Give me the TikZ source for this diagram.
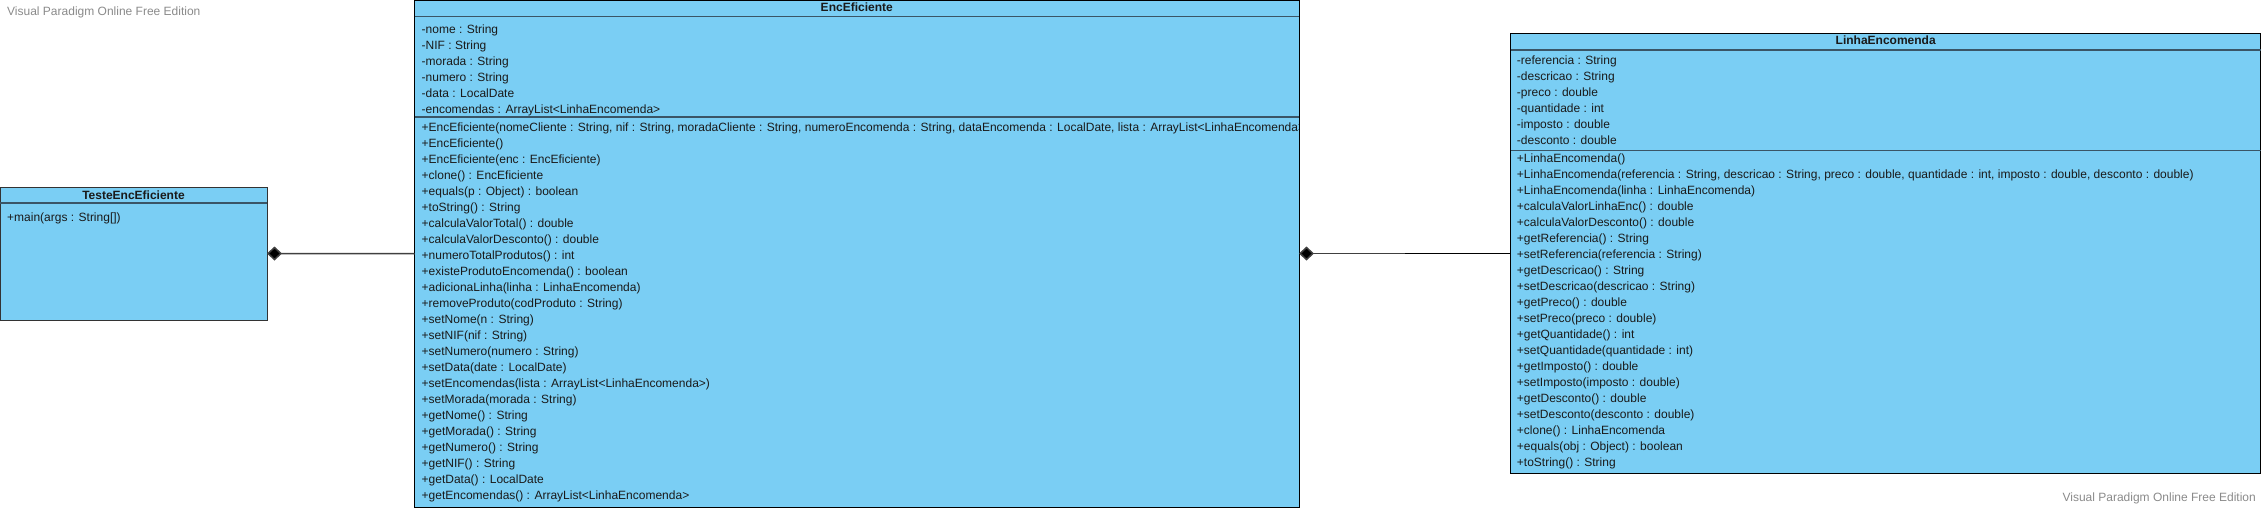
\documentclass[tikz,border=0pt]{standalone}
\usepackage{fontspec}
\setmainfont{Liberation Sans}
\usetikzlibrary{arrows.meta}
\definecolor{classfill}{HTML}{7ACEF4}
\definecolor{divcol}{HTML}{3A5566}
\definecolor{wmgray}{HTML}{8A8A8A}
\definecolor{txt}{HTML}{1A1A1A}
\tikzset{
 classbox/.style={draw=black, line width=1pt, fill=classfill, anchor=north west, inner sep=0pt, outer sep=0pt},
 divider/.style={draw=divcol, line width=1.3pt},
 member/.style={anchor=base west, inner sep=0pt, font=\fontsize{12}{14}\selectfont, text=txt},
 ctitle/.style={anchor=base, inner sep=0pt, font=\fontsize{12}{14}\selectfont\bfseries, text=txt},
 watermark/.style={inner sep=0pt, font=\fontsize{12}{14}\selectfont, text=wmgray},
 comp/.style={draw=black!75, line width=1.5pt},
 thinlink/.style={draw=black, line width=0.9pt},
 dtip/.style={-{Diamond[length=15pt,width=14pt,fill=black]}},
}
\begin{document}
\begin{tikzpicture}[x=1pt,y=-1pt]
\useasboundingbox (0,0) rectangle (2262,508);

% watermarks
\node[watermark, anchor=base west] (wm1) at (7,15.5) {Visual Paradigm Online Free Edition};
\node[watermark, anchor=base east] (wm2) at (2256,501.5) {Visual Paradigm Online Free Edition};

% TesteEncEficiente
\node[classbox, draw=black!80, minimum width=267pt, minimum height=133pt] (teste) at (0,187) {};
\draw[divider] (teste.west |- 0,203) -- (teste.east |- 0,203);
\node[ctitle] (teste-t) at (teste.north |- 0,199) {TesteEncEficiente};
\node[member] (teste-m) at (7,221.3) {+main(args : String[])};

% EncEficiente
\node[classbox, minimum width=884.5pt, minimum height=506.5pt] (enc) at (414.5,0.5) {};
\draw[divider] (enc.west |- 0,16.7) -- (enc.east |- 0,16.7);
\draw[divider] (enc.west |- 0,117) -- (enc.east |- 0,117);
\node[ctitle] (enc-t) at (enc.north |- 0,12) {EncEficiente};
\begin{scope}
\clip ([xshift=0.5pt]enc.north west) rectangle ([xshift=-1pt]enc.south east);
\foreach \t [count=\i from 0] in {%
 {-nome : String},
 {-NIF : String},
 {-morada : String},
 {-numero : String},
 {-data : LocalDate},
 {-encomendas : ArrayList<LinhaEncomenda>}}
 \node[member] (enc-a\i) at (421.5,33.3+16*\i) {\t};
\foreach \t [count=\i from 0] in {%
 {+EncEficiente(nomeCliente : String, nif : String, moradaCliente : String, numeroEncomenda : String, dataEncomenda : LocalDate, lista : ArrayList<LinhaEncomenda>)},
 {+EncEficiente()},
 {+EncEficiente(enc : EncEficiente)},
 {+clone() : EncEficiente},
 {+equals(p : Object) : boolean},
 {+toString() : String},
 {+calculaValorTotal() : double},
 {+calculaValorDesconto() : double},
 {+numeroTotalProdutos() : int},
 {+existeProdutoEncomenda() : boolean},
 {+adicionaLinha(linha : LinhaEncomenda)},
 {+removeProduto(codProduto : String)},
 {+setNome(n : String)},
 {+setNIF(nif : String)},
 {+setNumero(numero : String)},
 {+setData(date : LocalDate)},
 {+setEncomendas(lista : ArrayList<LinhaEncomenda>)},
 {+setMorada(morada : String)},
 {+getNome() : String},
 {+getMorada() : String},
 {+getNumero() : String},
 {+getNIF() : String},
 {+getData() : LocalDate},
 {+getEncomendas() : ArrayList<LinhaEncomenda>}}
 \node[member] (enc-m\i) at (421.5,131.3+16*\i) {\t};
\end{scope}
\draw[black, line width=1pt] (enc.north east) -- (enc.south east);

% LinhaEncomenda
\node[classbox, minimum width=750pt, minimum height=440pt] (linha) at (1510.7,33.3) {};
\draw[divider] (linha.west |- 0,50) -- (linha.east |- 0,50);
\draw[divider] (linha.west |- 0,150.7) -- (linha.east |- 0,150.7);
\node[ctitle] (linha-t) at (linha.north |- 0,45) {LinhaEncomenda};
\foreach \t [count=\i from 0] in {%
 {-referencia : String},
 {-descricao : String},
 {-preco : double},
 {-quantidade : int},
 {-imposto : double},
 {-desconto : double}}
 \node[member] (linha-a\i) at (1516.7,65+16*\i) {\t};
\foreach \t [count=\i from 0] in {%
 {+LinhaEncomenda()},
 {+LinhaEncomenda(referencia : String, descricao : String, preco : double, quantidade : int, imposto : double, desconto : double)},
 {+LinhaEncomenda(linha : LinhaEncomenda)},
 {+calculaValorLinhaEnc() : double},
 {+calculaValorDesconto() : double},
 {+getReferencia() : String},
 {+setReferencia(referencia : String)},
 {+getDescricao() : String},
 {+setDescricao(descricao : String)},
 {+getPreco() : double},
 {+setPreco(preco : double)},
 {+getQuantidade() : int},
 {+setQuantidade(quantidade : int)},
 {+getImposto() : double},
 {+setImposto(imposto : double)},
 {+getDesconto() : double},
 {+setDesconto(desconto : double)},
 {+clone() : LinhaEncomenda},
 {+equals(obj : Object) : boolean},
 {+toString() : String}}
 \node[member] (linha-m\i) at (1516.7,162.3+16*\i) {\t};

% connectors (composition)
\draw[comp, dtip] (enc.west) -- (teste.east);
\coordinate (kink) at (1405,253.5);
\draw[thinlink] (kink) -- (linha.west |- kink);
\draw[comp, dtip] (kink) -- (enc.east |- kink);
\end{tikzpicture}
\end{document}
